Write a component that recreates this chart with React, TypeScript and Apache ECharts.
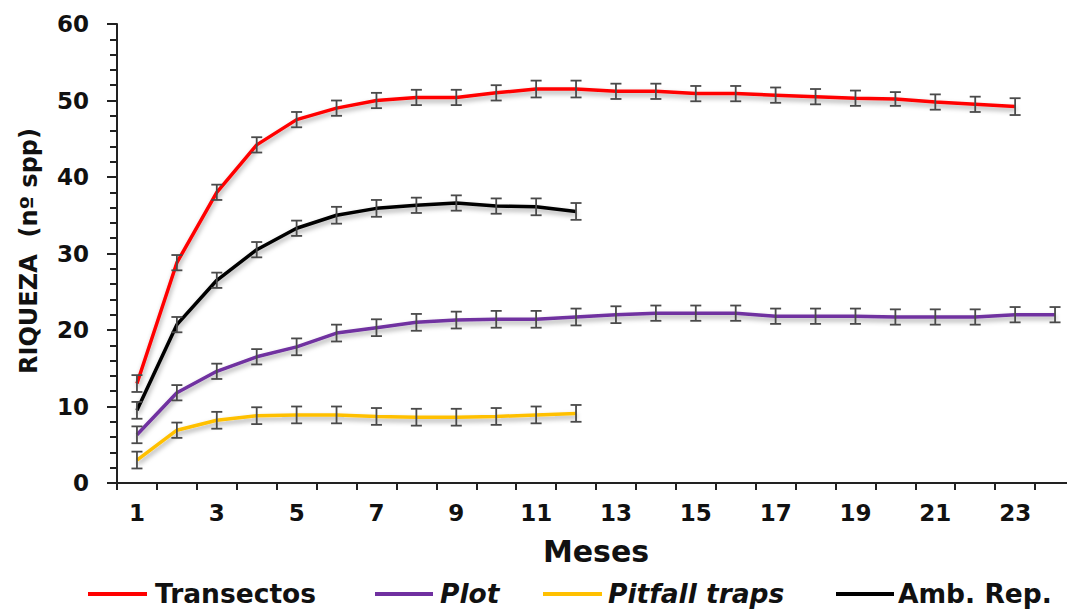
import React, { useEffect, useRef } from "react";
import * as echarts from "echarts";

const months = ["1","2","3","4","5","6","7","8","9","10","11","12","13","14","15","16","17","18","19","20","21","22","23","24"];

const transectos = [13.0, 28.8, 38.0, 44.2, 47.5, 49.0, 50.0, 50.4, 50.4, 51.0, 51.5, 51.5, 51.2, 51.2, 50.9, 50.9, 50.7, 50.5, 50.3, 50.2, 49.8, 49.5, 49.2];
const plot = [6.3, 11.8, 14.6, 16.5, 17.8, 19.6, 20.3, 21.0, 21.3, 21.4, 21.4, 21.7, 22.0, 22.2, 22.2, 22.2, 21.8, 21.8, 21.8, 21.7, 21.7, 21.7, 22.0, 22.0];
const pitfall = [3.0, 6.9, 8.2, 8.8, 8.9, 8.9, 8.7, 8.6, 8.6, 8.7, 8.9, 9.1];
const ambRep = [9.5, 20.7, 26.5, 30.5, 33.3, 35.0, 35.9, 36.3, 36.6, 36.2, 36.1, 35.5];

const errTransectos = [1.1, 1.0, 1.0, 1.0, 1.0, 1.0, 1.0, 1.0, 1.0, 1.0, 1.1, 1.1, 1.0, 1.0, 1.0, 1.0, 1.0, 1.0, 1.0, 0.9, 1.0, 1.0, 1.1];
const errPlot = [1.1, 1.0, 1.0, 1.0, 1.1, 1.1, 1.1, 1.1, 1.1, 1.1, 1.1, 1.1, 1.1, 1.0, 1.0, 1.0, 1.0, 1.0, 1.0, 1.0, 1.0, 1.0, 1.0, 1.0];
const errPitfall = [1.1, 1.0, 1.1, 1.1, 1.1, 1.1, 1.1, 1.1, 1.1, 1.1, 1.1, 1.1];
const errAmbRep = [1.1, 1.0, 1.0, 1.0, 1.0, 1.1, 1.1, 1.0, 1.0, 1.0, 1.1, 1.1];

const seriesNames = ["Transectos", "Plot", "Pitfall traps", "Amb. Rep."];
const seriesColors = ["#ff0000", "#7030a0", "#ffc000", "#000000"];

const FONT = "DejaVu Sans";

export default function App() {
  const ref = useRef<HTMLDivElement>(null);

  useEffect(() => {
    if (!ref.current) return;
    const chart = echarts.init(ref.current, undefined, { renderer: "svg" });

    const values = [transectos, plot, pitfall, ambRep];
    const errs = [errTransectos, errPlot, errPitfall, errAmbRep];

    const lineSeries = values.map((vals, k) => ({
      name: seriesNames[k],
      type: "line",
      data: vals,
      symbol: "none",
      z: 3,
      lineStyle: {
        color: seriesColors[k],
        width: 3.5,
        shadowColor: "rgba(0,0,0,0.35)",
        shadowBlur: 5,
        shadowOffsetX: 1,
        shadowOffsetY: 3,
      },
      itemStyle: { color: seriesColors[k] },
    }));

    const errSeries = values.map((vals, k) => ({
      name: seriesNames[k] + " error",
      type: "custom",
      z: 5,
      data: vals.map((v, i) => [i, v - errs[k][i], v + errs[k][i]]),
      encode: { x: 0, y: [1, 2] },
      renderItem: (_params: any, api: any) => {
        const x = api.value(0);
        const lo = api.value(1);
        const hi = api.value(2);
        const top = api.coord([x, hi]);
        const bot = api.coord([x, lo]);
        const hw = 5.5;
        const st = { stroke: "#4a4a4a", lineWidth: 1.8 };
        return {
          type: "group",
          children: [
            { type: "line", shape: { x1: top[0], y1: top[1], x2: bot[0], y2: bot[1] }, style: st },
            { type: "line", shape: { x1: top[0] - hw, y1: top[1], x2: top[0] + hw, y2: top[1] }, style: st },
            { type: "line", shape: { x1: bot[0] - hw, y1: bot[1], x2: bot[0] + hw, y2: bot[1] }, style: st },
          ],
        };
      },
    }));

    const legendItems = [
      { x1: 88, x2: 147, tx: 155, italic: false },
      { x1: 375, x2: 433, tx: 440, italic: true },
      { x1: 543, x2: 602, tx: 608, italic: true },
      { x1: 836, x2: 894, tx: 898, italic: false },
    ];
    const legendGraphics: any[] = [];
    legendItems.forEach((it, k) => {
      legendGraphics.push({
        type: "line",
        shape: { x1: it.x1, y1: 594, x2: it.x2, y2: 594 },
        style: { stroke: seriesColors[k], lineWidth: 4 },
      });
      legendGraphics.push({
        type: "text",
        x: it.tx,
        y: 593,
        style: {
          text: seriesNames[k],
          fontFamily: FONT,
          fontWeight: "bold",
          fontStyle: it.italic ? "italic" : "normal",
          fontSize: 26.5,
          fill: "#111",
          textAlign: "left",
          textVerticalAlign: "middle",
        },
      });
    });

    chart.setOption({
      animation: false,
      backgroundColor: "#ffffff",
      grid: {
        left: 117,
        top: 24,
        width: 958,
        height: 459,
        outerBoundsMode: "none",
        containLabel: false,
      },
      xAxis: {
        type: "category",
        data: months,
        boundaryGap: true,
        name: "Meses",
        nameLocation: "middle",
        nameGap: 53,
        nameTextStyle: { fontFamily: FONT, fontWeight: "bold", fontSize: 30, color: "#111" },
        axisLine: { lineStyle: { color: "#222", width: 2 } },
        axisTick: { show: true, interval: 0, length: 7, lineStyle: { color: "#222", width: 2 } },
        axisLabel: {
          interval: 1,
          margin: 18,
          fontFamily: FONT,
          fontWeight: "bold",
          fontSize: 23,
          color: "#111",
        },
        splitLine: { show: false },
      },
      yAxis: {
        type: "value",
        min: 0,
        max: 60,
        interval: 10,
        axisLine: { show: true, lineStyle: { color: "#222", width: 2 } },
        axisTick: { show: true, length: 10, lineStyle: { color: "#222", width: 2 } },
        minorTick: { show: true, splitNumber: 5, length: 7, lineStyle: { color: "#222", width: 2 } },
        axisLabel: {
          margin: 28,
          fontFamily: FONT,
          fontWeight: "bold",
          fontSize: 23,
          color: "#111",
        },
        splitLine: { show: false },
        minorSplitLine: { show: false },
      },
      graphic: [
        {
          type: "text",
          x: 29,
          y: 251,
          rotation: Math.PI / 2,
          style: {
            text: "RIQUEZA  (nº spp)",
            fontFamily: FONT,
            fontWeight: "bold",
            fontSize: 24,
            fill: "#111",
            textAlign: "center",
            textVerticalAlign: "middle",
          },
        },
        ...legendGraphics,
      ],
      series: [...lineSeries, ...errSeries],
    } as any);

    return () => chart.dispose();
  }, []);

  return (
    <div
      ref={ref}
      style={{ position: "absolute", left: 0, top: 0, width: 1067, height: 612 }}
    />
  );
}
